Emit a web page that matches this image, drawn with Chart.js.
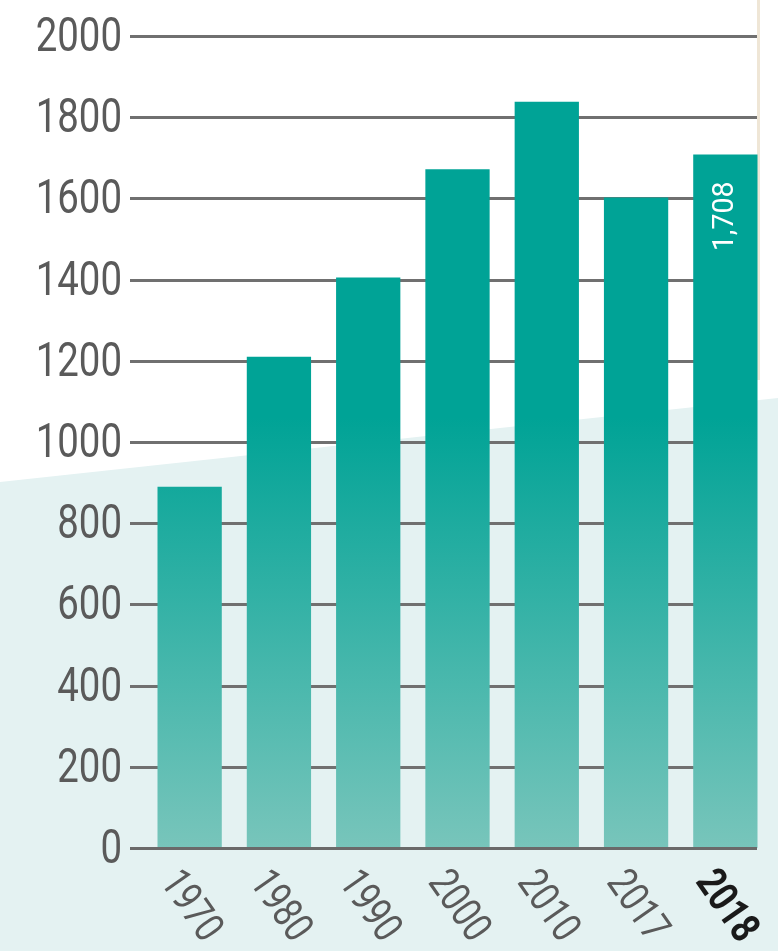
<!DOCTYPE html>
<html>
<head>
<meta charset="utf-8">
<script src="https://cdn.jsdelivr.net/npm/chart.js@4"></script>
<style>
  html, body { margin: 0; padding: 0; background: #ffffff; overflow: hidden; }
  #wrap { width: 778px; height: 951px; }
</style>
</head>
<body>
<div id="wrap"><canvas id="grafico"></canvas></div>
<script>
const anos = ['1970', '1980', '1990', '2000', '2010', '2017', '2018'];
const valores = [890, 1210, 1405, 1672, 1838, 1602, 1708];
const rotuloDestaque = '1,708';
const fonte = 'Roboto, "DejaVu Sans", sans-serif';
const estreito = 0.8; // compressão horizontal p/ imitar fonte condensada

// fundo branco com faixa azul clara em diagonal
const fundo = {
  id: 'fundo',
  beforeDraw(chart) {
    const ctx = chart.ctx;
    ctx.save();
    ctx.fillStyle = '#ffffff';
    ctx.fillRect(0, 0, chart.width, chart.height);
    ctx.fillStyle = '#e4f2f2';
    ctx.beginPath();
    ctx.moveTo(0, 482);
    ctx.lineTo(chart.width, 398);
    ctx.lineTo(chart.width, chart.height);
    ctx.lineTo(0, chart.height);
    ctx.closePath();
    ctx.fill();
    // linha bege vertical na direita
    ctx.fillStyle = '#efe6d6';
    ctx.fillRect(757, 0, 3, 380);
    ctx.restore();
  }
};

// grade e rótulos desenhados a partir das escalas
const grade = {
  id: 'grade',
  beforeDatasetsDraw(chart) {
    const ctx = chart.ctx;
    const y = chart.scales.y;
    const area = chart.chartArea;
    ctx.save();
    ctx.strokeStyle = '#707070';
    ctx.lineWidth = 3;
    y.ticks.forEach(t => {
      const py = Math.round(y.getPixelForValue(t.value)) + 0.5;
      if (t.value !== 0) {
        ctx.beginPath();
        ctx.moveTo(area.left - 15, py);
        ctx.lineTo(757, py);
        ctx.stroke();
      }
      // rótulo do eixo y
      ctx.save();
      ctx.translate(area.left - 23, py);
      ctx.scale(estreito, 1);
      ctx.font = '48px ' + fonte;
      ctx.fillStyle = '#5a5a5a';
      ctx.textAlign = 'right';
      ctx.textBaseline = 'middle';
      ctx.fillText(String(t.value), 0, 2);
      ctx.restore();
    });
    ctx.restore();
  },
  afterDatasetsDraw(chart) {
    const ctx = chart.ctx;
    const y = chart.scales.y;
    const x = chart.scales.x;
    const area = chart.chartArea;
    ctx.save();
    // linha do zero
    ctx.strokeStyle = '#6a6a6a';
    ctx.lineWidth = 3;
    const p0 = Math.round(y.getPixelForValue(0)) + 0.5;
    ctx.beginPath();
    ctx.moveTo(area.left - 15, p0);
    ctx.lineTo(757, p0);
    ctx.stroke();

    // rótulos do eixo x inclinados
    anos.forEach((ano, i) => {
      const px = x.getPixelForValue(i);
      const ultimo = i === anos.length - 1;
      ctx.save();
      ctx.translate(px, 907);
      ctx.rotate(55 * Math.PI / 180);
      ctx.scale(estreito, 1);
      ctx.font = (ultimo ? 'bold ' : '') + '42px ' + fonte;
      ctx.fillStyle = ultimo ? '#1a1a1a' : '#5a5a5a';
      ctx.textAlign = 'center';
      ctx.textBaseline = 'middle';
      ctx.fillText(ano, 0, 0);
      ctx.restore();
    });

    // valor destacado dentro da última barra
    const meta = chart.getDatasetMeta(0);
    const barra = meta.data[anos.length - 1];
    ctx.save();
    ctx.translate(barra.x, barra.y + 27);
    ctx.rotate(-Math.PI / 2);
    ctx.scale(0.95, 1);
    ctx.font = '30px ' + fonte;
    ctx.fillStyle = '#ffffff';
    ctx.textAlign = 'right';
    ctx.textBaseline = 'middle';
    ctx.fillText(rotuloDestaque, 0, 0);
    ctx.restore();
    ctx.restore();
  }
};

function corBarra(context) {
  const area = context.chart.chartArea;
  if (!area) return '#00a396';
  const g = context.chart.ctx.createLinearGradient(0, area.top, 0, area.bottom);
  g.addColorStop(0, '#00a396');
  g.addColorStop(0.47, '#00a396');
  g.addColorStop(1, '#78c5bb');
  return g;
}

new Chart(document.getElementById('grafico'), {
  type: 'bar',
  data: {
    labels: anos,
    datasets: [
      {
        data: valores,
        backgroundColor: corBarra,
        borderWidth: 0,
        barPercentage: 0.72,
        categoryPercentage: 1,
      }
    ],
  },
  options: {
    responsive: true,
    maintainAspectRatio: false,
    animation: false,
    layout: {
      padding: { left: 0, right: 8, top: 36, bottom: 95 },
    },
    scales: {
      x: {
        grid: { display: false },
        border: { display: false },
        ticks: { display: false },
      },
      y: {
        min: 0,
        max: 2000,
        afterFit(scale) { scale.width = 145; },
        grid: { display: false },
        border: { display: false },
        ticks: { display: false, stepSize: 200 },
      },
    },
    plugins: {
      legend: { display: false },
      tooltip: { enabled: false },
    },
  },
  plugins: [fundo, grade],
});
</script>
</body>
</html>
